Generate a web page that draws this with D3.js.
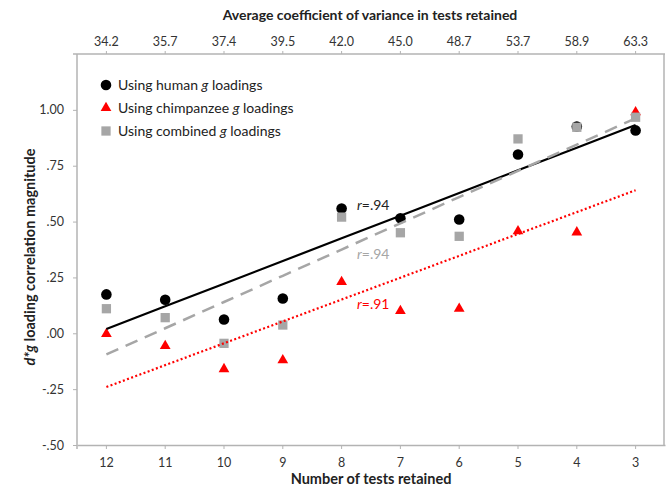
<!DOCTYPE html>
<html>
<head>
<meta charset="utf-8">
<script src="https://cdn.jsdelivr.net/npm/d3@7"></script>
<style>
  body { margin: 0; background: #fff; }
  text { font-family: Lato, "Open Sans", sans-serif; }
</style>
</head>
<body>
<div id="viz"></div>
<script>
// categories and values
const testsRetained = ["12", "11", "10", "9", "8", "7", "6", "5", "4", "3"];
const avgCoefVariance = ["34.2", "35.7", "37.4", "39.5", "42.0", "45.0", "48.7", "53.7", "58.9", "63.3"];
const humanLoadings = [0.174, 0.150, 0.062, 0.156, 0.558, 0.515, 0.509, 0.800, 0.925, 0.908];
const chimpLoadings = [-0.003, -0.057, -0.160, -0.120, 0.230, 0.100, 0.110, 0.457, 0.452, 0.990];
const combinedLoadings = [0.110, 0.070, -0.045, 0.037, 0.520, 0.450, 0.434, 0.870, 0.922, 0.967];
const yTicks = [-0.5, -0.25, 0, 0.25, 0.5, 0.75, 1.0];
const yTickLabels = ["-.50", "-.25", ".00", ".25", ".50", ".75", "1.00"];
const legendLabels = ["Using human ", "Using chimpanzee ", "Using combined "];
const rLabels = ["=.94", "=.91", "=.94"];

const W = 666, H = 489;
const margin = {top: 54, right: 1, bottom: 44, left: 77};
const width = W - margin.left - margin.right,
      height = H - margin.top - margin.bottom;

const svg = d3.select("#viz")
  .append("svg")
    .attr("width", W)
    .attr("height", H);

const g = svg.append("g")
    .attr("transform", "translate(" + margin.left + "," + margin.top + ")");

const x = d3.scaleBand()
  .domain(testsRetained)
  .range([0, width]);
const xTop = d3.scaleBand()
  .domain(avgCoefVariance)
  .range([0, width]);
const y = d3.scaleLinear()
  .domain([-0.5, 1.25])
  .range([height, 0]);

const cx = i => x(testsRetained[i]) + x.bandwidth() / 2;

const axisColor = "#b3b3b3", labelColor = "#333";

// axes
const styleAxis = (sel) => {
  sel.select(".domain").attr("stroke", axisColor).attr("stroke-width", 1.5);
  sel.selectAll(".tick line").attr("stroke", axisColor);
  sel.selectAll(".tick text").attr("fill", labelColor).attr("font-size", 12.5)
    .style("font-family", "Lato, sans-serif");
};

g.append("g")
  .attr("transform", "translate(0," + height + ")")
  .call(d3.axisBottom(x).tickSize(4).tickSizeOuter(0).tickPadding(9))
  .call(styleAxis);

g.append("g")
  .call(d3.axisTop(xTop).tickSize(3).tickSizeOuter(0).tickPadding(5))
  .call(styleAxis)
  .select(".domain").attr("d", "M-4,0H" + width);

g.append("g")
  .call(d3.axisLeft(y).tickValues(yTicks).tickSize(4).tickSizeOuter(0).tickPadding(9)
    .tickFormat((d, i) => yTickLabels[i]))
  .call(styleAxis)
  .select(".domain").attr("d", "M0," + (height + 4) + "V0");

g.append("line")
  .attr("x1", width - 1).attr("x2", width - 1)
  .attr("y1", 0).attr("y2", height)
  .attr("stroke", axisColor).attr("stroke-width", 1.5);

// axis titles
svg.append("text")
  .attr("x", 370).attr("y", 20)
  .attr("text-anchor", "middle")
  .attr("font-size", 14).attr("font-weight", "bold").attr("fill", "#222")
  .text("Average coefficient of variance in tests retained");

svg.append("text")
  .attr("x", 371).attr("y", 484)
  .attr("text-anchor", "middle")
  .attr("font-size", 14.5).attr("font-weight", "bold").attr("fill", "#222")
  .text("Number of tests retained");

const yTitle = svg.append("text")
  .attr("transform", "translate(35,257) rotate(-90)")
  .attr("text-anchor", "middle")
  .attr("font-size", 14.5).attr("font-weight", "bold").attr("fill", "#222");
yTitle.append("tspan").attr("font-style", "italic").text("d*g");
yTitle.append("tspan").text(" loading correlation magnitude");

// least squares trendline over category positions 1..n
const fit = (vals) => {
  const xs = vals.map((_, i) => i + 1);
  const mx = d3.mean(xs), my = d3.mean(vals);
  const b = d3.sum(xs, (xi, i) => (xi - mx) * (vals[i] - my)) / d3.sum(xs, xi => (xi - mx) ** 2);
  const a = my - b * mx;
  return vals.map((_, i) => ({i: i, v: a + b * (i + 1)}));
};

const line = d3.line()
  .x(d => cx(d.i))
  .y(d => y(d.v));

const series = [
  {vals: humanLoadings, color: "#000000", marker: "circle", dash: null, lw: 2.2},
  {vals: chimpLoadings, color: "#ff0000", marker: "triangle", dash: "2,2.4", lw: 2.2},
  {vals: combinedLoadings, color: "#a6a6a6", marker: "square", dash: "13,8", lw: 2.5}
];

const symbolOf = {
  circle: d3.symbol().type(d3.symbolCircle).size(88),
  triangle: d3.symbol().type(d3.symbolTriangle).size(50),
  square: d3.symbol().type(d3.symbolSquare).size(86)
};

// markers first, trendlines drawn over them
series.forEach(s => {
  g.selectAll(null)
    .data(s.vals)
    .join("path")
      .attr("transform", (d, i) => "translate(" + cx(i) + "," + y(d) + ")")
      .attr("d", symbolOf[s.marker]())
      .attr("fill", s.color);
});

series.forEach(s => {
  g.append("path")
    .datum(fit(s.vals))
    .attr("fill", "none")
    .attr("stroke", s.color)
    .attr("stroke-width", s.lw)
    .attr("stroke-dasharray", s.dash)
    .attr("d", line);
});

// r labels
const rPos = [{x: 357, y: 210}, {x: 357, y: 309}, {x: 357, y: 259}];
series.forEach((s, k) => {
  const t = svg.append("text")
    .attr("x", rPos[k].x).attr("y", rPos[k].y)
    .attr("font-size", 14).attr("fill", k === 0 ? "#222" : s.color);
  t.append("tspan").attr("font-style", "italic").text("r");
  t.append("tspan").text(rLabels[k]);
});

// legend
const legend = svg.append("g").attr("transform", "translate(106,85)");
series.forEach((s, k) => {
  const row = legend.append("g").attr("transform", "translate(0," + (k * 23) + ")");
  row.append("path").attr("d", symbolOf[s.marker]()).attr("fill", s.color);
  const t = row.append("text").attr("x", 12).attr("y", 5)
    .attr("font-size", 14).attr("fill", "#222");
  t.append("tspan").text(legendLabels[k]);
  t.append("tspan").attr("font-style", "italic").text("g");
  t.append("tspan").text(" loadings");
});
</script>
</body>
</html>
